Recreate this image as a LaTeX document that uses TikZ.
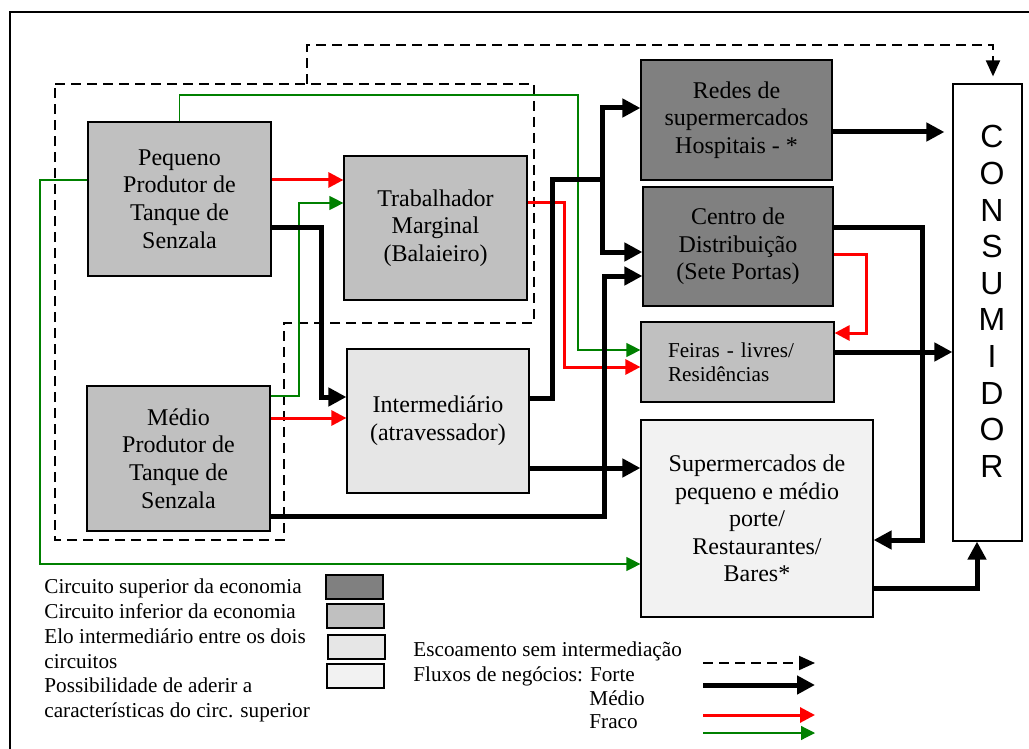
\documentclass[tikz,border=0pt]{standalone}
\usepackage{fontspec}
\setmainfont{Liberation Serif}
\setsansfont{Liberation Sans}
\usetikzlibrary{arrows.meta}
\definecolor{circsup}{HTML}{808080}
\definecolor{circinf}{HTML}{C0C0C0}
\definecolor{elocol}{HTML}{E6E6E6}
\definecolor{aderecol}{HTML}{F2F2F2}
\definecolor{fracocol}{HTML}{008000}

\begin{document}
\begin{tikzpicture}[x=0.5pt,y=-0.5pt,
  box/.style={draw,line width=0.6pt,inner sep=0pt,align=center,
    font=\fontsize{12}{13.8}\selectfont},
  csup/.style={box,fill=circsup},
  cinf/.style={box,fill=circinf},
  celo/.style={box,fill=elocol},
  cadere/.style={box,fill=aderecol},
  legbox/.style={draw,line width=1pt,inner sep=0pt,minimum width=28.5pt,minimum height=12pt},
  legtxt/.style={inner sep=0pt,align=left,font=\fontsize{10.6}{12.4}\selectfont},
  forte/.style={line width=2.5pt,-{Triangle[length=9pt,width=9pt]}},
  medio/.style={red,line width=1.5pt,-{Triangle[length=7.5pt,width=7.5pt]}},
  fraco/.style={fracocol,line width=0.6pt,-{Triangle[length=7pt,width=7pt]}},
  escoa/.style={dash pattern=on 5pt off 3pt,line width=1pt,-{Triangle[length=8pt,width=7pt]}}]
  \useasboundingbox (0,0) rectangle (1029,749);
  \clip (0,0) rectangle (1029,749);
  % frame
  \draw[line width=1pt] (10,12) rectangle (1040,760);
  % producers area
  \draw[dash pattern=on 5pt off 3pt,line width=1pt]
    (55,84) -- (534,84) -- (534,323) -- (284,323) -- (284,540) -- (55,540) -- cycle;
  \coordinate (grp) at (307,84);
  % boxes
  \node[cinf,minimum width=91.5pt,minimum height=77pt] (peq) at (179.5,199) {Pequeno\\Produtor de\\Tanque de\\Senzala};
  \node[cinf,minimum width=91.5pt,minimum height=72pt] (trab) at (435.5,228) {Trabalhador\\Marginal\\(Balaieiro)};
  \node[cinf,minimum width=91.5pt,minimum height=72.5pt] (med) at (178.5,458.5) {Médio\\Produtor de\\Tanque de\\Senzala};
  \node[celo,minimum width=91pt,minimum height=72pt] (int) at (438,421) {Intermediário\\(atravessador)};
  \node[csup,minimum width=95.5pt,minimum height=60pt] (red) at (736.5,120) {Redes de\\supermercados\\Hospitais - *};
  \node[csup,minimum width=95pt,minimum height=59.5pt] (cen) at (738,246.5) {Centro de\\Distribuição\\(Sete Portas)};
  \node[cinf,minimum height=40pt,text width=69.5pt,inner xsep=13.5pt,align=left,
    font=\fontsize{10.6}{12}\selectfont] (fei) at (737.5,362) {Feiras - livres/\\Residências};
  \node[cadere,minimum width=116pt,minimum height=98.5pt] (sup) at (757,518.5) {Supermercados de\\pequeno e médio\\porte/\\Restaurantes/\\Bares*};
  \node[draw,line width=0.6pt,fill=white,minimum width=34.5pt,minimum height=228.5pt] (cons) at (987.5,312.5) {};
  \node[align=center,inner sep=0pt,font=\sffamily\fontsize{16}{18.3}\selectfont] (constxt) at (992,301.5) {C\\O\\N\\S\\U\\M\\I\\D\\O\\R};
  % weak flows
  \draw[fraco] (peq.north) |- (578,95) |- (fei.west |- 0,350);
  \draw[fraco] (peq.west |- 0,180) -| (40,564) -- (sup.west |- 0,564);
  \draw[fraco] (med.east |- 0,396) -| (299,203) -- (trab.west |- 0,203);
  % medium flows
  \draw[medio] (peq.east |- 0,180) -- (trab.west |- 0,180);
  \draw[medio] (med.east |- 0,418) -- (int.west |- 0,418);
  \draw[medio] (trab.east |- 0,203) -| (564,367) -- (fei.west |- 0,367);
  \draw[medio] (cen.east |- 0,254) -| (866,333) -- (fei.east |- 0,333);
  % strong flows
  \draw[forte] (peq.east |- 0,228) -| (321,397) -- (int.west |- 0,397);
  \draw[forte] (med.east |- 0,516) -| (604,276) -- (cen.west |- 0,276);
  \draw[forte] (int.east |- 0,398) -| (552,180) -- (602,180) coordinate (fork) |- (red.west |- 0,108);
  \draw[forte] (fork) |- (cen.west |- 0,252);
  \draw[forte] (int.east |- 0,468) -- (sup.west |- 0,468);
  \draw[forte,shorten >=4pt] (red.east |- 0,132) -- (cons.west |- 0,132);
  \draw[forte] (fei.east |- 0,352) -- (cons.west |- 0,352);
  \draw[forte] (cen.east |- 0,228) -| (922,540) -- (sup.east |- 0,540);
  \draw[forte] (sup.east |- 0,588) -| (cons.south -| 977,0);
  % direct flow to the consumer
  \draw[escoa,shorten >=3.5pt] (grp) |- (993,45) -- (cons.north -| 993,0);
  % legend
  \node[legbox,fill=circsup] (lsup) at (354.5,587) {};
  \node[legbox,fill=circinf] (linf) at (355.5,616) {};
  \node[legbox,fill=elocol] (lelo) at (356.5,647) {};
  \node[legbox,fill=aderecol] (ladere) at (355.5,675.5) {};
  \node[legtxt,anchor=north west] (legl) at (44,578.5) {Circuito superior da economia\\Circuito inferior da economia\\Elo intermediário entre os dois\\circuitos\\Possibilidade de aderir a\\características do circ. superior};
  \node[legtxt,anchor=base west] (lesc) at (413,656) {Escoamento sem intermediação};
  \node[legtxt,anchor=base west] (lflu) at (413,681) {Fluxos de negócios: Forte};
  \node[legtxt,anchor=base west] (lmed) at (589,705) {Médio};
  \node[legtxt,anchor=base west] (lfra) at (589,728) {Fraco};
  \foreach \y/\s in {663/escoa,685/forte,715/medio,733/fraco}{
    \coordinate (\s-a) at (703,\y);
    \coordinate (\s-b) at (815,\y);
    \draw[\s] (\s-a) -- (\s-b);
  }
\end{tikzpicture}
\end{document}
